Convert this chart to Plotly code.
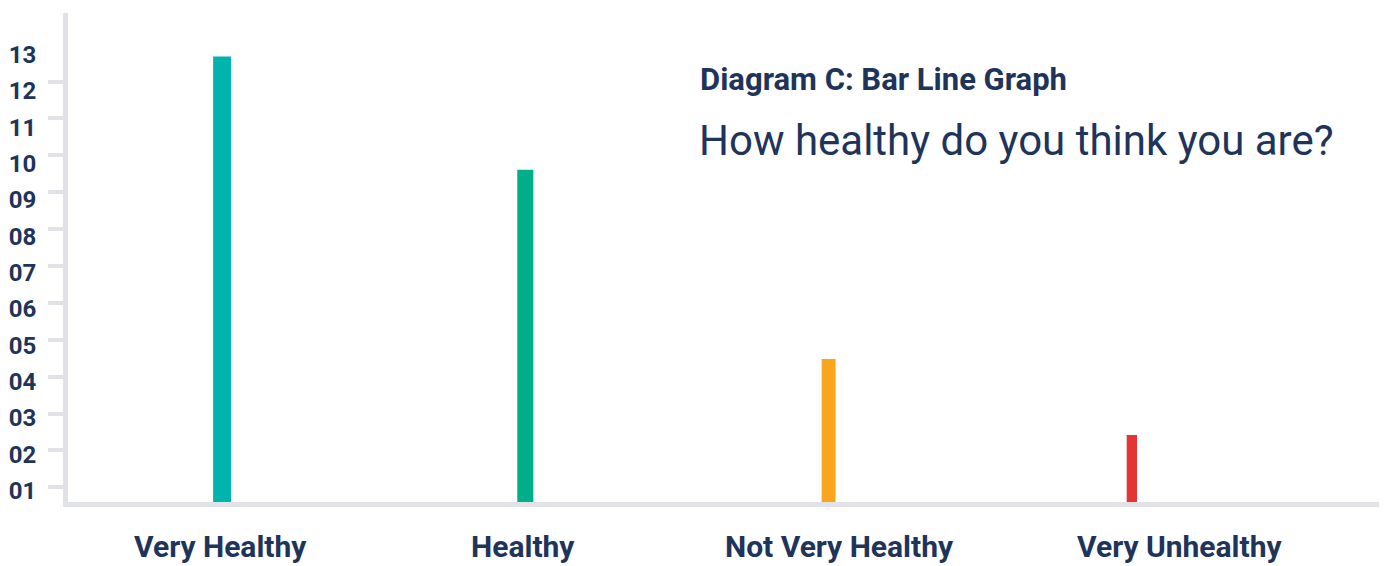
import plotly.graph_objects as go

# ---- data ----
categories = ["Very Healthy", "Healthy", "Not Very Healthy", "Very Unhealthy"]
values = [12.95, 9.83, 4.62, 2.53]
tick_values = list(range(1, 14))
tick_labels = ["01", "02", "03", "04", "05", "06", "07", "08", "09", "10", "11", "12", "13"]
subtitle = "Diagram C: Bar Line Graph"
title = "How healthy do you think you are?"

# ---- styles ----
bar_colors = ["#00b3ad", "#00af87", "#f9a51e", "#e43535"]
bar_widths = [0.059, 0.053, 0.046, 0.034]
label_xshift = [-2, -2, 11, 48]
NAVY = "#1e345a"
GREY = "#e1e1e8"
FONT = "Roboto"

# small grey tick marks sit slightly above each label
mark_vals = [n + 0.088 + 0.0157 * (n - 1) for n in tick_values[:-1]]

fig = go.Figure()
fig.add_trace(go.Bar(
    x=categories, y=values, width=bar_widths,
    marker=dict(color=bar_colors, line=dict(width=0)),
    hoverinfo="x+y",
))

for cat, dx in zip(categories, label_xshift):
    fig.add_annotation(
        x=cat, xref="x", y=-0.090, yref="paper",
        text=f"<b>{cat}</b>", showarrow=False, xshift=dx,
        xanchor="center", yanchor="middle", borderpad=0,
        font=dict(family=FONT, size=30, color=NAVY),
    )

fig.add_annotation(
    x=0.4805, y=0.865, xref="paper", yref="paper", xanchor="left", yanchor="middle",
    text=f"<b>{subtitle}</b>", showarrow=False,
    font=dict(family=FONT, size=31, color=NAVY),
)
fig.add_annotation(
    x=0.4795, y=0.740, xref="paper", yref="paper", xanchor="left", yanchor="middle",
    text=title, showarrow=False,
    font=dict(family=FONT, size=42, color=NAVY),
)

fig.update_layout(
    width=1385, height=566,
    margin=dict(l=68, r=6, t=13, b=64),
    paper_bgcolor="white", plot_bgcolor="white",
    showlegend=False,
    xaxis=dict(
        type="category", range=[-0.508, 3.815],
        showticklabels=False, ticks="", showgrid=False, zeroline=False,
        showline=True, linecolor=GREY, linewidth=5,
    ),
    yaxis=dict(
        range=[0.683, 14.15],
        tickvals=tick_values, ticktext=tick_labels, ticks="",
        tickfont=dict(family=FONT, size=24, color=NAVY, weight="bold"),
        ticklabelstandoff=22,
        showgrid=False, zeroline=False,
        showline=True, linecolor=GREY, linewidth=5,
        minor=dict(tickvals=mark_vals, ticks="outside", ticklen=15,
                   tickwidth=4, tickcolor=GREY, showgrid=False),
    ),
)

fig.write_html("out.html")
